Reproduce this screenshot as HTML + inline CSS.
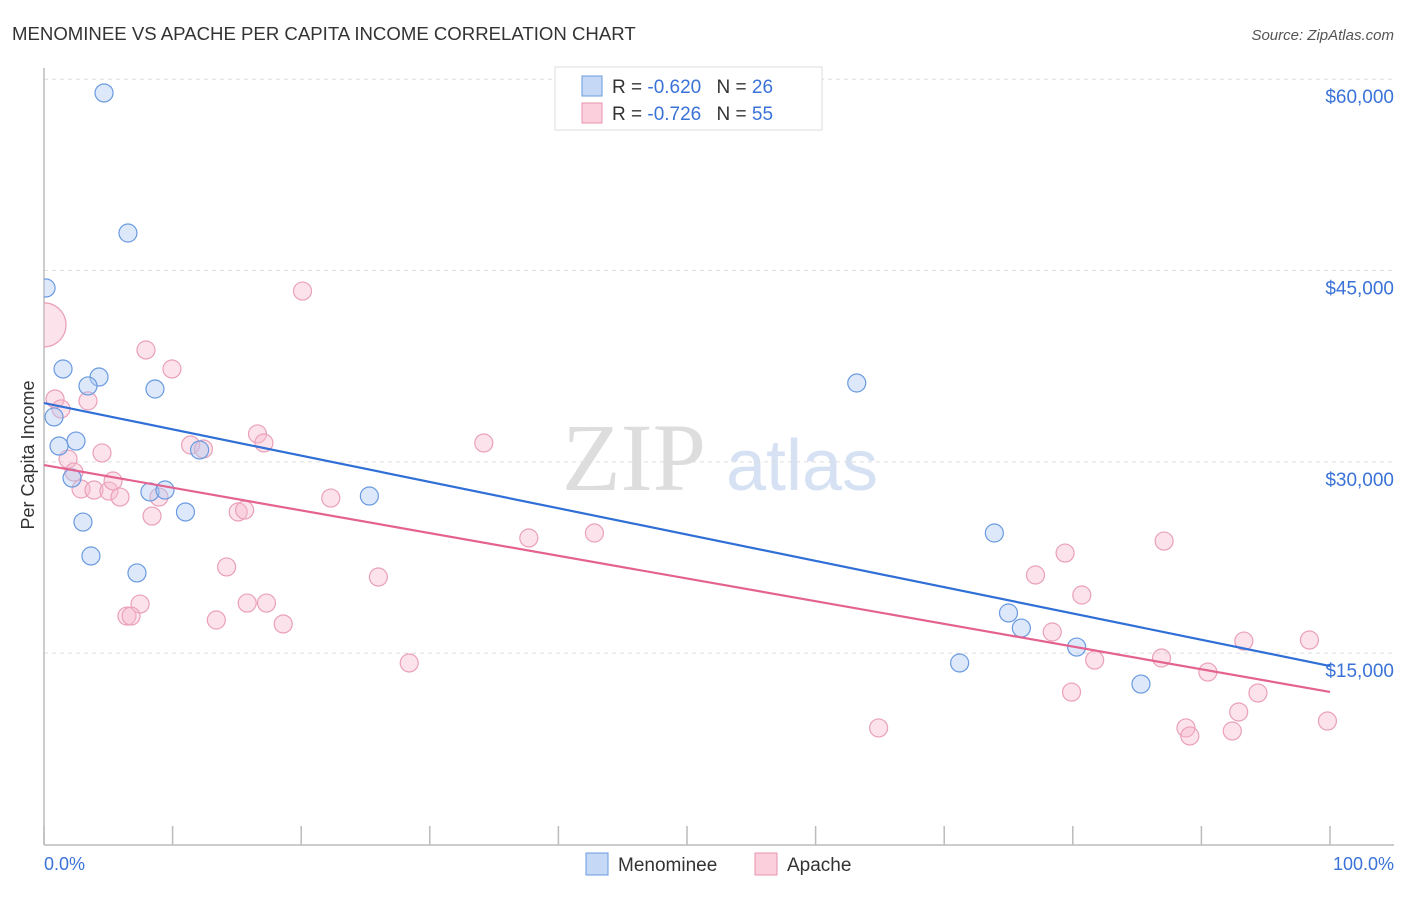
<!DOCTYPE html>
<html><head><meta charset="utf-8"><style>
body{margin:0;background:#fff;font-family:"Liberation Sans",sans-serif;}
</style></head><body>
<svg width="1406" height="892" xmlns="http://www.w3.org/2000/svg">
<defs><clipPath id="plotclip"><rect x="44" y="40" width="1362" height="806"/></clipPath></defs>
<text x="12" y="40" font-size="18.6" fill="#333">MENOMINEE VS APACHE PER CAPITA INCOME CORRELATION CHART</text>
<text x="1394" y="40" font-size="15" fill="#555" font-style="italic" text-anchor="end">Source: ZipAtlas.com</text>
<g>
<text x="634" y="490" font-size="96" fill="#ddd" font-family="Liberation Serif,serif" text-anchor="middle">ZIP</text>
<text x="802" y="490" font-size="72" fill="#d6e2f3" text-anchor="middle">atlas</text>
</g>
<g id="grid"></g><g id="axes"></g><g id="marks" clip-path="url(#plotclip)"></g>
<text transform="translate(34,455) rotate(-90)" font-size="18" fill="#333" text-anchor="middle">Per Capita Income</text>
<text x="44" y="870" font-size="18" fill="#3a72d8">0.0%</text>
<text x="1394" y="870" font-size="18" fill="#3a72d8" text-anchor="end">100.0%</text>
<g>
<rect x="555" y="67" width="267" height="63" fill="#fff" stroke="#ddd"/>
<rect x="582" y="76" width="20" height="20" fill="#c5d9f6" stroke="#6a9ae0"/>
<rect x="582" y="103" width="20" height="20" fill="#fbd0dc" stroke="#e890ab"/>
<text x="612" y="93" font-size="19" fill="#333">R = <tspan fill="#3a72d8">-0.620</tspan>   <tspan dx="10">N = </tspan><tspan fill="#3a72d8">26</tspan></text>
<text x="612" y="120" font-size="19" fill="#333">R = <tspan fill="#3a72d8">-0.726</tspan>   <tspan dx="10">N = </tspan><tspan fill="#3a72d8">55</tspan></text>
</g>
<g>
<rect x="586" y="853" width="22" height="22" fill="#c5d9f6" stroke="#6a9ae0"/>
<text x="618" y="871" font-size="19" fill="#333">Menominee</text>
<rect x="755" y="853" width="22" height="22" fill="#fbd0dc" stroke="#e890ab"/>
<text x="787" y="871" font-size="19" fill="#333">Apache</text>
</g>
</svg>
<script>
const yTicks=[15000,30000,45000,60000];
const yTickLabels=["$15,000","$30,000","$45,000","$60,000"];
const xTicks=[0,10,20,30,40,50,60,70,80,90,100];
const menomineeX=[4.67,6.53,0.16,1.48,4.28,3.42,8.63,63.2,0.78,1.17,2.49,12.1,2.18,8.24,9.41,25.3,11.0,3.03,3.65,7.23,73.9,75.0,76.0,80.3,71.2,85.3];
const menomineeY=[58920,47940,43630,37280,36650,35950,35710,36180,33520,31240,31630,30930,28730,27640,27790,27320,26070,25280,22620,21290,24420,18150,16970,15480,14230,12580];
const apacheX=[0,20.1,7.93,9.95,0.86,1.32,3.42,11.4,12.4,16.6,17.1,34.2,4.51,1.87,2.33,2.88,3.89,5.05,5.37,5.91,8.94,22.3,8.40,15.1,15.6,37.7,42.8,14.2,26.0,7.47,6.45,6.77,15.8,17.3,13.4,18.6,28.4,64.9,79.4,77.1,80.7,78.4,81.7,79.9,87.1,86.9,90.5,93.3,98.4,94.4,92.9,88.8,89.1,92.4,99.8];
const apacheY=[40740,43390,38770,37280,34930,34150,34780,31320,31010,32190,31480,31480,30700,30220,29200,27870,27790,27710,28500,27240,27240,27160,25750,26070,26220,24030,24420,21760,20970,18850,17910,17910,18930,18930,17600,17290,14230,9140,22850,21130,19560,16660,14460,11950,23790,14620,13520,15950,16030,11880,10390,9140,8510,8900,9680];
const menomineeTrend=[34610,13990];
const apacheTrend=[29750,11960];
const X=p=>44+p*12.86, Y=v=>844.5-v/78.4;
const NS="http://www.w3.org/2000/svg";
function mk(tag,attrs,parent){const e=document.createElementNS(NS,tag);for(const k in attrs)e.setAttribute(k,attrs[k]);document.getElementById(parent).appendChild(e);return e;}
yTicks.forEach((t,i)=>{
 const l=mk('line',{x1:44,x2:1394,y1:Y(t),y2:Y(t),stroke:'#ddd','stroke-dasharray':'4,4'},'grid');
 
 
 const tx=mk('text',{x:1394,y:Y(t)+24,'font-size':19,fill:'#3a72d8','text-anchor':'end','font-family':'Liberation Sans,sans-serif'},'grid');
 tx.textContent=yTickLabels[i];
 
 
});
const ya=mk('line',{x1:44,x2:44,y1:68,y2:845,stroke:'#bbb','stroke-width':1.5},'axes');


const xa=mk('line',{x1:44,x2:1394,y1:845,y2:845,stroke:'#bbb','stroke-width':1.5},'axes');


xTicks.forEach(t=>{const tk=mk('line',{x1:X(t),x2:X(t),y1:826,y2:845,stroke:'#bbb','stroke-width':1.5},'axes');
 
 });
function pts(xs,ys,fill,stroke,name){xs.forEach((x,i)=>{const r=(name==='apache-point'&&i===0)?22:9;
 const c=mk('circle',{cx:X(x),cy:Y(ys[i]),r:r,fill:fill,stroke:stroke,'stroke-width':1.2},'marks');
 
 });}
pts(apacheX,apacheY,'rgba(248,185,205,0.4)','#eaa0b8','apache-point');
pts(menomineeX,menomineeY,'rgba(170,200,242,0.4)','#6a9ae0','menominee-point');
const bl=mk('line',{x1:X(0),y1:Y(menomineeTrend[0]),x2:X(100),y2:Y(menomineeTrend[1]),stroke:'#2f6fd6','stroke-width':2.2},'marks');


const pl=mk('line',{x1:X(0),y1:Y(apacheTrend[0]),x2:X(100),y2:Y(apacheTrend[1]),stroke:'#e4628f','stroke-width':2.2},'marks');


</script>
</body></html>
